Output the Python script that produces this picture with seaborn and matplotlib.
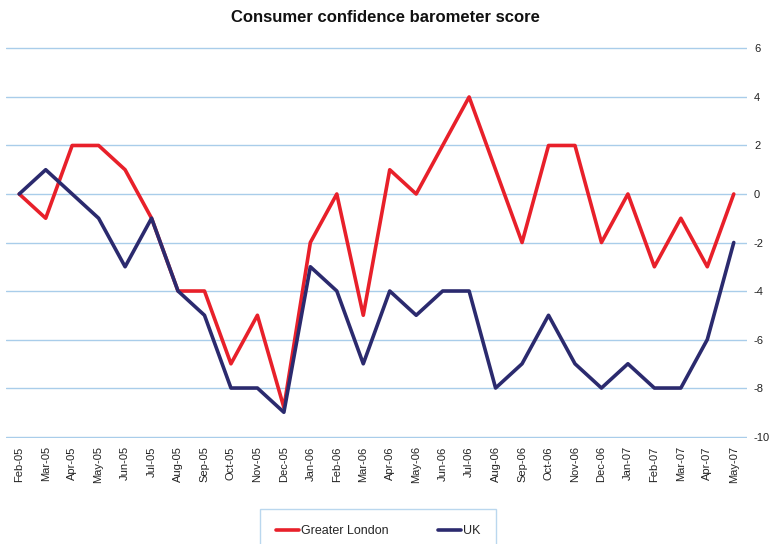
import matplotlib
matplotlib.use("Agg")
import matplotlib.pyplot as plt
import seaborn as sns
import pandas as pd
from matplotlib.lines import Line2D

months = ["Feb-05", "Mar-05", "Apr-05", "May-05", "Jun-05", "Jul-05", "Aug-05", "Sep-05",
          "Oct-05", "Nov-05", "Dec-05", "Jan-06", "Feb-06", "Mar-06", "Apr-06", "May-06",
          "Jun-06", "Jul-06", "Aug-06", "Sep-06", "Oct-06", "Nov-06", "Dec-06", "Jan-07",
          "Feb-07", "Mar-07", "Apr-07", "May-07"]
greater_london = [0, -1, 2, 2, 1, -1, -4, -4, -7, -5, -8.8, -2, 0, -5, 1, 0,
                  2, 4, 1, -2, 2, 2, -2, 0, -3, -1, -3, 0]
uk = [0, 1, 0, -1, -3, -1, -4, -5, -8, -8, -9, -3, -4, -7, -4, -5,
      -4, -4, -8, -7, -5, -7, -8, -7, -8, -8, -6, -2]
y_ticks = [-10, -8, -6, -4, -2, 0, 2, 4, 6]

sns.set_theme(style="white")
plt.rcParams["font.family"] = ["Liberation Sans", "DejaVu Sans"]

df = pd.DataFrame({
    "month": months * 2,
    "x": list(range(len(months))) * 2,
    "value": greater_london + uk,
    "series": ["Greater London"] * len(months) + ["UK"] * len(months),
})

fig = plt.figure(figsize=(7.71, 5.44), dpi=100)
ax = fig.add_axes([6 / 771, 1 - 438 / 544, (747 - 6) / 771, (438 - 47) / 544])

sns.lineplot(data=df, x="x", y="value", hue="series",
             palette={"Greater London": "#e8202a", "UK": "#2b2a6e"},
             linewidth=2.6, ax=ax, legend=False)

ax.set_xlim(-0.5, len(months) - 0.5)
ax.set_ylim(-10.06, 6.06)
ax.set_yticks(y_ticks)
ax.set_yticklabels([str(t) for t in y_ticks], fontsize=8, color="#222222")
ax.yaxis.tick_right()
ax.tick_params(axis="y", length=0, pad=5)
ax.set_xticks(range(len(months)))
ax.set_xticklabels(months, rotation=90, fontsize=8, color="#222222")
ax.tick_params(axis="x", length=0, pad=6)
ax.set_xlabel("")
ax.set_ylabel("")
for s in ax.spines.values():
    s.set_visible(False)
ax.grid(axis="y", color="#a9cdea", linewidth=1)
ax.grid(axis="x", visible=False)
ax.set_axisbelow(True)

fig.text(0.5, 1 - 18 / 544, "Consumer confidence barometer score", ha="center", va="center",
         fontsize=12, fontweight="bold", family=["Liberation Sans", "DejaVu Sans"],
         color="#111111")

handles = [Line2D([], [], color="#e8202a", lw=2.6), Line2D([], [], color="#2b2a6e", lw=2.6)]
leg = fig.legend(handles, ["Greater London", "UK"], loc="upper center",
                 bbox_to_anchor=(378 / 771, 1 - 503 / 544), ncol=2, frameon=True,
                 fancybox=False, fontsize=9, handlelength=1.85, handletextpad=0.15,
                 columnspacing=3.9, borderpad=1.3)
leg.get_frame().set_edgecolor("#a9cdea")
leg.get_frame().set_linewidth(1)

fig.savefig("out.png", dpi=100)
